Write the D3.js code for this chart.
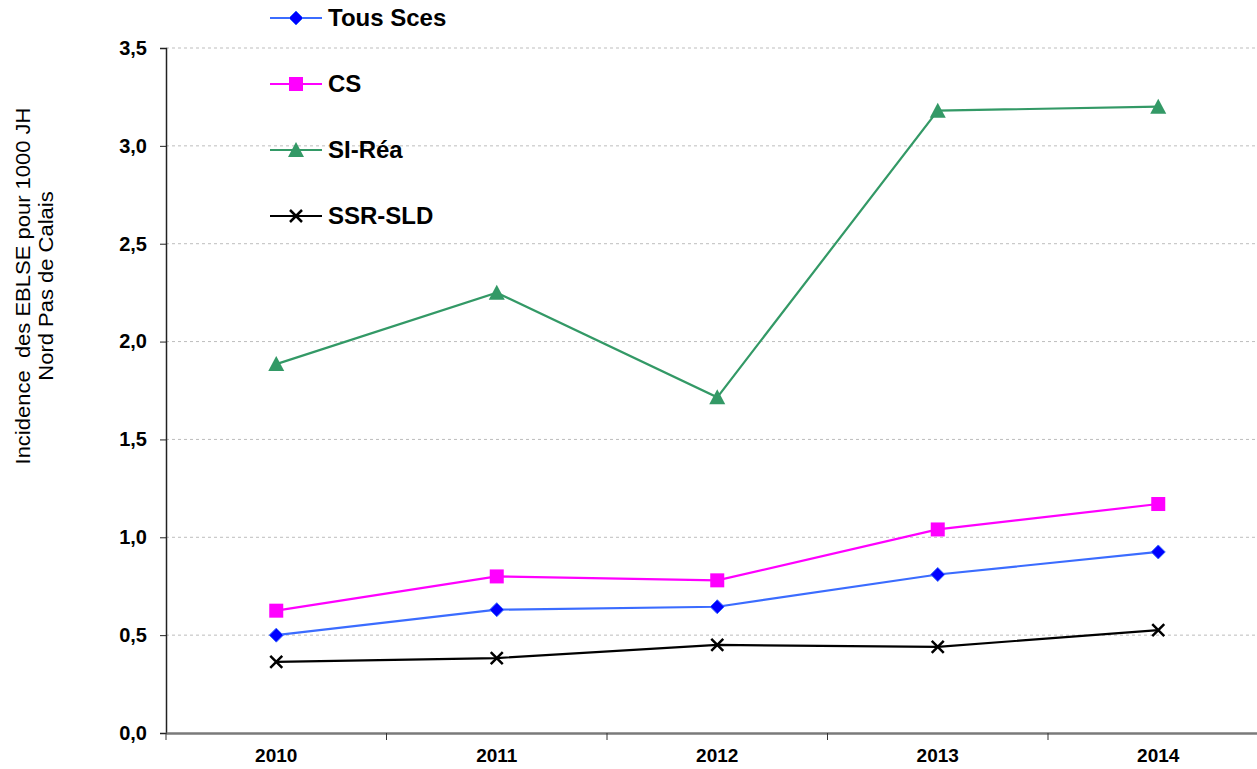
<!DOCTYPE html>
<html>
<head>
<meta charset="utf-8">
<script src="https://cdn.jsdelivr.net/npm/d3@7"></script>
<style>
  body { margin: 0; background: #fff; }
  svg { display: block; font-family: "Liberation Sans", Arial, sans-serif; }
</style>
</head>
<body>
<svg id="chart" width="1257" height="769"></svg>
<script>
// chart data
const years = ["2010", "2011", "2012", "2013", "2014"];
const tousSces = [0.50, 0.63, 0.645, 0.81, 0.925];
const cs = [0.625, 0.80, 0.78, 1.04, 1.17];
const siRea = [1.885, 2.25, 1.715, 3.18, 3.20];
const ssrSld = [0.363, 0.383, 0.45, 0.44, 0.526];
const yTicks = [0, 0.5, 1, 1.5, 2, 2.5, 3, 3.5];

const series = [
    { name: "Tous Sces", values: tousSces, line: "#3b6cff", fill: "#0000ff", shape: "diamond" },
    { name: "CS", values: cs, line: "#ff00ff", fill: "#ff00ff", shape: "square" },
    { name: "SI-Réa", values: siRea, line: "#339966", fill: "#339966", shape: "triangle" },
    { name: "SSR-SLD", values: ssrSld, line: "#000000", fill: "#000000", shape: "cross" }
];

const svg = d3.select("#chart");
const plotLeft = 166, plotTop = 48, plotBottom = 733;

const x = d3.scaleBand().domain(years).range([plotLeft, plotLeft + 5 * 220.5]);
const y = d3.scaleLinear().domain([0, 3.5]).range([plotBottom, plotTop]);

// gridlines
svg.append("g")
    .selectAll("line")
    .data(yTicks.filter(d => d > 0))
    .join("line")
    .attr("x1", plotLeft).attr("x2", 1257)
    .attr("y1", d => y(d)).attr("y2", d => y(d))
    .attr("stroke", "#bdbdbd")
    .attr("stroke-dasharray", "3,3");

// y axis
const yAxis = svg.append("g")
    .attr("transform", `translate(${plotLeft},0)`)
    .call(d3.axisLeft(y).tickValues(yTicks).tickSize(6).tickPadding(13)
        .tickFormat(d => d3.format(".1f")(d).replace(".", ",")));
yAxis.select(".domain").attr("stroke", "#222").attr("stroke-width", 1.5);
yAxis.selectAll(".tick line").attr("stroke", "#222");
yAxis.selectAll("text")
    .attr("fill", "#000")
    .style("font-size", "20px")
    .style("font-weight", "bold")
    .style("font-family", "'Liberation Sans', Arial, sans-serif");

// x axis
const xAxis = svg.append("g")
    .attr("transform", `translate(0,${plotBottom})`)
    .call(d3.axisBottom(x).tickSize(0).tickPadding(16));
xAxis.select(".domain").attr("stroke", "#7a7a7a").attr("stroke-width", 2.5);
xAxis.selectAll("text")
    .attr("fill", "#000")
    .style("font-size", "19px")
    .style("font-weight", "bold")
    .style("font-family", "'Liberation Sans', Arial, sans-serif");

// band boundary ticks
svg.append("g")
    .selectAll("line")
    .data(years)
    .join("line")
    .attr("x1", d => x(d)).attr("x2", d => x(d))
    .attr("y1", plotBottom).attr("y2", plotBottom + 7)
    .attr("stroke", "#333");

// y title (slightly elongated like the original)
const yTitle = svg.append("text")
    .attr("transform", "translate(30,286) rotate(-90) scale(1.1,1)")
    .attr("text-anchor", "middle")
    .style("font-size", "20px")
    .style("white-space", "pre")
    .attr("fill", "#000");
yTitle.append("tspan").attr("x", 0).attr("dy", 0).text("Incidence  des EBLSE pour 1000 JH");
yTitle.append("tspan").attr("x", 0).attr("dy", 23).text("Nord Pas de Calais");

function drawMarker(g, shape, color) {
    if (shape === "diamond") {
        g.append("path").attr("d", "M0,-7L7,0L0,7L-7,0Z").attr("fill", color)
            .attr("stroke", "#3b6cff").attr("stroke-width", 1);
    } else if (shape === "square") {
        g.append("rect").attr("x", -7).attr("y", -7).attr("width", 14).attr("height", 14).attr("fill", color);
    } else if (shape === "triangle") {
        g.append("path").attr("d", "M0,-8L8,7L-8,7Z").attr("fill", color);
    } else {
        g.append("path").attr("d", "M-6,-6L6,6M-6,6L6,-6").attr("stroke", color).attr("stroke-width", 2.5);
    }
}

const line = d3.line()
    .x((d, i) => x(years[i]) + x.bandwidth() / 2)
    .y(d => y(d));

series.forEach(s => {
    svg.append("path")
        .datum(s.values)
        .attr("d", line)
        .attr("fill", "none")
        .attr("stroke", s.line)
        .attr("stroke-width", 2.2);
    s.values.forEach((v, i) => {
        const g = svg.append("g")
            .attr("transform", `translate(${x(years[i]) + x.bandwidth() / 2},${y(v)})`);
        drawMarker(g, s.shape, s.fill);
    });
});

// legend
const legend = svg.append("g").attr("transform", "translate(270,18)");
series.forEach((s, i) => {
    const row = legend.append("g").attr("transform", `translate(0,${i * 66})`);
    row.append("line").attr("x1", 0).attr("x2", 52).attr("y1", 0).attr("y2", 0)
        .attr("stroke", s.line).attr("stroke-width", 2.2);
    const m = row.append("g").attr("transform", "translate(26,0)");
    drawMarker(m, s.shape, s.fill);
    row.append("text")
        .attr("x", 58).attr("y", 8)
        .style("font-size", "24px")
        .style("font-weight", "bold")
        .attr("fill", "#000")
        .text(s.name);
});
</script>
</body>
</html>
